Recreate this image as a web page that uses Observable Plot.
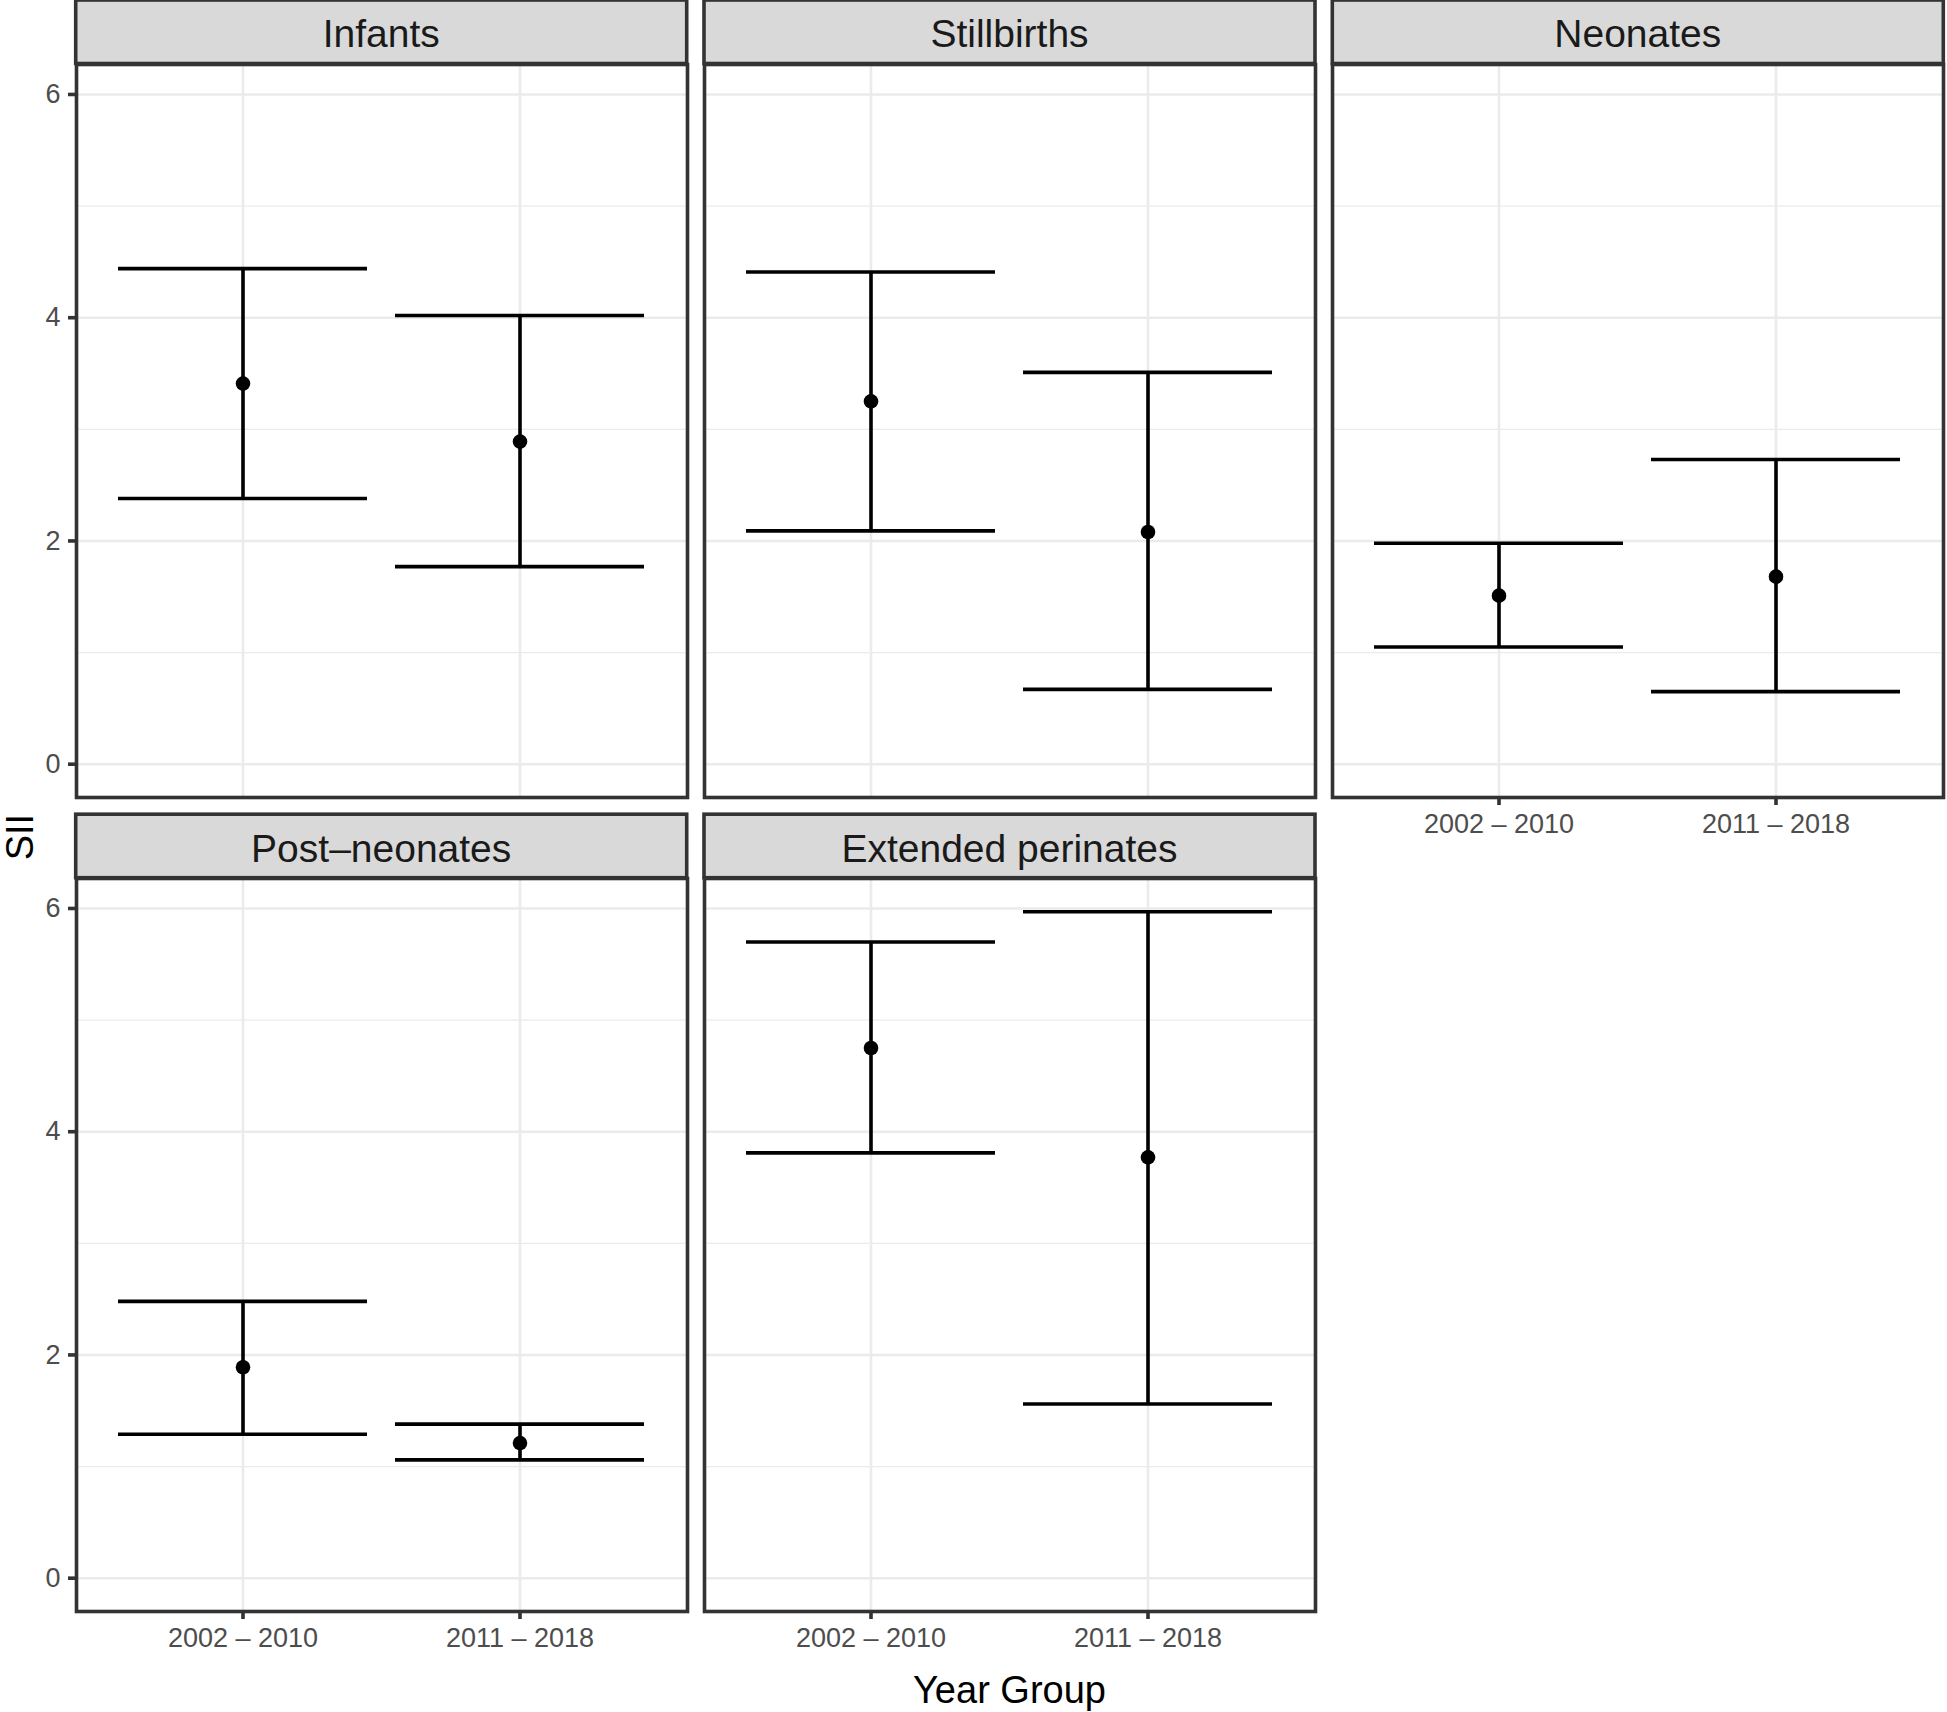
<!DOCTYPE html>
<html><head><meta charset="utf-8">
<script src="https://cdn.jsdelivr.net/npm/d3@7"></script>
<script src="https://cdn.jsdelivr.net/npm/@observablehq/plot@0.6"></script>
<style>
html,body{margin:0;padding:0;background:#fff;}
#chart{position:relative;width:1947px;height:1712px;overflow:hidden;font-family:"Liberation Sans",Arial,Helvetica,sans-serif;}
#chart svg{position:absolute;}
</style></head><body><div id="chart"></div>
<script>
// ---- data ----
const panels = ["Infants", "Stillbirths", "Neonates", "Post–neonates", "Extended perinates"];
const groups = ["2002 – 2010", "2011 – 2018"];
const siiEarly   = [3.41, 3.25, 1.51, 1.89, 4.75];
const lowerEarly = [2.38, 2.09, 1.05, 1.29, 3.81];
const upperEarly = [4.44, 4.41, 1.98, 2.48, 5.70];
const siiLate    = [2.89, 2.08, 1.68, 1.21, 3.77];
const lowerLate  = [1.77, 0.67, 0.65, 1.06, 1.56];
const upperLate  = [4.02, 3.51, 2.73, 1.38, 5.97];
const yTicks = [0, 2, 4, 6];
const yMinor = [1, 3, 5];
const xTitle = "Year Group";
const yTitle = "SII";

// ---- table built from arrays ----
const rows = [];
panels.forEach((p, i) => {
  rows.push({panel: p, group: groups[0], sii: siiEarly[i], lower: lowerEarly[i], upper: upperEarly[i]});
  rows.push({panel: p, group: groups[1], sii: siiLate[i], lower: lowerLate[i], upper: upperLate[i]});
});
const yMax = d3.max(rows, d => d.upper), yMin = Math.min(0, d3.min(rows, d => d.lower));
const ex = (yMax - yMin) * 0.05;
const yDomain = [yMin - ex, yMax + ex];

// ---- layout ----
const FONT = '"Liberation Sans", Arial, Helvetica, sans-serif';
const W = 611, H = 733, stripH = 63.5;
const colLeft = [75.7, 704.0, 1332.3];
const rowTop = [63.5, 877.7];
const LW = 3.6;
const ml = 80, mr = 6, mt = 6, mb = 60;

const chart = document.getElementById("chart");

// overlay for strips and titles
const ov = d3.select(chart).append("svg")
  .attr("width", 1947).attr("height", 1712)
  .style("left", "0px").style("top", "0px")
  .style("font-family", FONT);

panels.forEach((name, i) => {
  const col = i % 3, row = Math.floor(i / 3);
  const x0 = colLeft[col], y0 = rowTop[row] - stripH;
  ov.append("rect").attr("x", x0).attr("y", y0).attr("width", W).attr("height", stripH)
    .attr("fill", "#D9D9D9").attr("stroke", "#333333").attr("stroke-width", LW);
  ov.append("text").attr("x", x0 + W / 2).attr("y", y0 + 47.3)
    .attr("text-anchor", "middle").attr("font-size", 39).attr("fill", "#1A1A1A").text(name);
});
ov.append("text").attr("x", (colLeft[0] + colLeft[2] + W) / 2).attr("y", 1703)
  .attr("text-anchor", "middle").attr("font-size", 38).attr("fill", "#000").text(xTitle);
ov.append("text").attr("transform", `translate(33,${(rowTop[0] + rowTop[1] + H) / 2}) rotate(-90)`)
  .attr("text-anchor", "middle").attr("font-size", 38).attr("fill", "#000").text(yTitle);

// panels
panels.forEach((name, i) => {
  const col = i % 3, row = Math.floor(i / 3);
  const data = rows.filter(d => d.panel === name);
  const showY = col === 0;
  const showX = i + 3 >= panels.length;
  const marks = [
    Plot.gridY(yMinor, {stroke: "#EBEBEB", strokeOpacity: 1, strokeWidth: 1.3}),
    Plot.gridY(yTicks, {stroke: "#EBEBEB", strokeOpacity: 1, strokeWidth: 2.6}),
    Plot.gridX(groups, {stroke: "#EBEBEB", strokeOpacity: 1, strokeWidth: 2.6}),
    Plot.ruleX(data, {x: "group", y1: "lower", y2: "upper", stroke: "#000", strokeWidth: LW}),
    Plot.tickY(data, {x: "group", y: "upper", stroke: "#000", strokeWidth: LW}),
    Plot.tickY(data, {x: "group", y: "lower", stroke: "#000", strokeWidth: LW}),
    Plot.dot(data, {x: "group", y: "sii", r: 7.3, fill: "#000", stroke: "none"}),
    Plot.frame({stroke: "#333333", strokeWidth: LW})
  ];
  if (showY) marks.push(Plot.axisY(yTicks, {tickSize: 8, tickPadding: 8, fontSize: 27, tickFormat: d => String(d), stroke: "#333333", fill: "#4D4D4D", strokeWidth: LW, label: null}));
  if (showX) marks.push(Plot.axisX({tickSize: 8, tickPadding: 8, fontSize: 27, stroke: "#333333", fill: "#4D4D4D", strokeWidth: LW, label: null}));
  const svg = Plot.plot({
    width: W + ml + mr, height: H + mt + mb,
    marginLeft: ml, marginRight: mr, marginTop: mt, marginBottom: mb,
    style: {background: "transparent", overflow: "visible", fontFamily: FONT, fontSize: "27px", maxWidth: "none"},
    x: {type: "band", domain: groups, paddingInner: 0.1, paddingOuter: 0.15, axis: null},
    y: {domain: yDomain, axis: null},
    marks
  });
  svg.style.position = "absolute";
  svg.style.left = (colLeft[col] - ml) + "px";
  svg.style.top = (rowTop[row] - mt) + "px";
  chart.appendChild(svg);
});
</script>
</body></html>
